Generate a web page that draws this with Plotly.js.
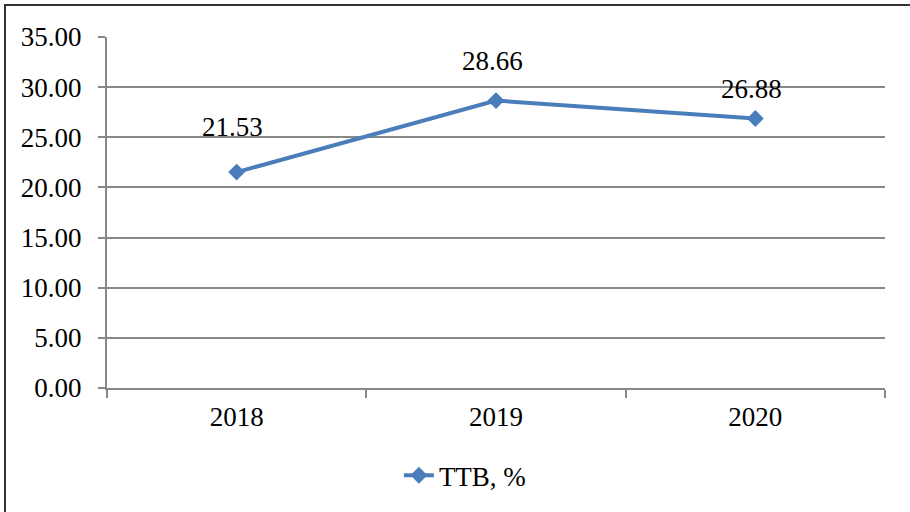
<!DOCTYPE html>
<html>
<head>
<meta charset="utf-8">
<script src="https://cdn.plot.ly/plotly-3.0.1.min.js"></script>
<style>
  html, body { margin: 0; padding: 0; background: #fff; }
  #frame { position: absolute; left: 4px; top: 4px; width: 906px; height: 508px;
           border-left: 2px solid #333; border-top: 2px solid #333; border-bottom: 1px solid #ddd; }
  #chart { position: absolute; left: 0; top: 0; width: 910px; height: 512px; }
</style>
</head>
<body>
<div id="frame"></div>
<div id="chart"></div>
<script>
// Chart data
const years = ["2018", "2019", "2020"];
const ttbValues = [21.53, 28.66, 26.88];
const seriesName = "TTB, %";

// label offsets above each point (px)
const labelShift = [45, 40, 29];

const trace = {
  x: years,
  y: ttbValues,
  name: seriesName,
  type: "scatter",
  mode: "lines+markers",
  line: { color: "#4a7ebb", width: 4 },
  marker: { symbol: "diamond", size: 13, color: "#4a7ebb" },
  hoverinfo: "skip",
};

// category index used for annotation position (string years would be read as indexes)
const labels = years.map((yr, i) => ({
  x: i,
  y: ttbValues[i],
  text: ttbValues[i].toFixed(2),
  showarrow: false,
  yshift: labelShift[i],
  xshift: -4,
  font: { family: "Liberation Serif, Times New Roman, serif", size: 27, color: "#000" },
}));

const layout = {
  width: 910,
  height: 512,
  paper_bgcolor: "rgba(0,0,0,0)",
  plot_bgcolor: "#fff",
  margin: { l: 107, r: 25, t: 37, b: 124 },
  font: { family: "Liberation Serif, Times New Roman, serif", size: 27, color: "#000" },
  showlegend: true,
  legend: {
    orientation: "h",
    x: 0.46,
    xanchor: "center",
    y: -0.25,
    yanchor: "middle",
    font: { size: 27 },
  },
  xaxis: {
    type: "category",
    range: [-0.5, 2.5],
    tickson: "boundaries",
    ticks: "outside",
    ticklen: 8,
    tickcolor: "#888",
    tickwidth: 2,
    showline: true,
    linecolor: "#888",
    linewidth: 2,
    showgrid: false,
    ticklabelstandoff: 4,
    fixedrange: true,
  },
  yaxis: {
    range: [0, 35],
    dtick: 5,
    tickformat: ".2f",
    ticks: "outside",
    ticklen: 7,
    tickcolor: "#888",
    tickwidth: 2,
    showline: true,
    linecolor: "#888",
    linewidth: 2,
    gridcolor: "#888",
    gridwidth: 2,
    zeroline: false,
    ticklabelstandoff: 11,
    fixedrange: true,
  },
  annotations: labels,
};

Plotly.newPlot("chart", [trace], layout, { displayModeBar: false, staticPlot: true });
</script>
</body>
</html>
